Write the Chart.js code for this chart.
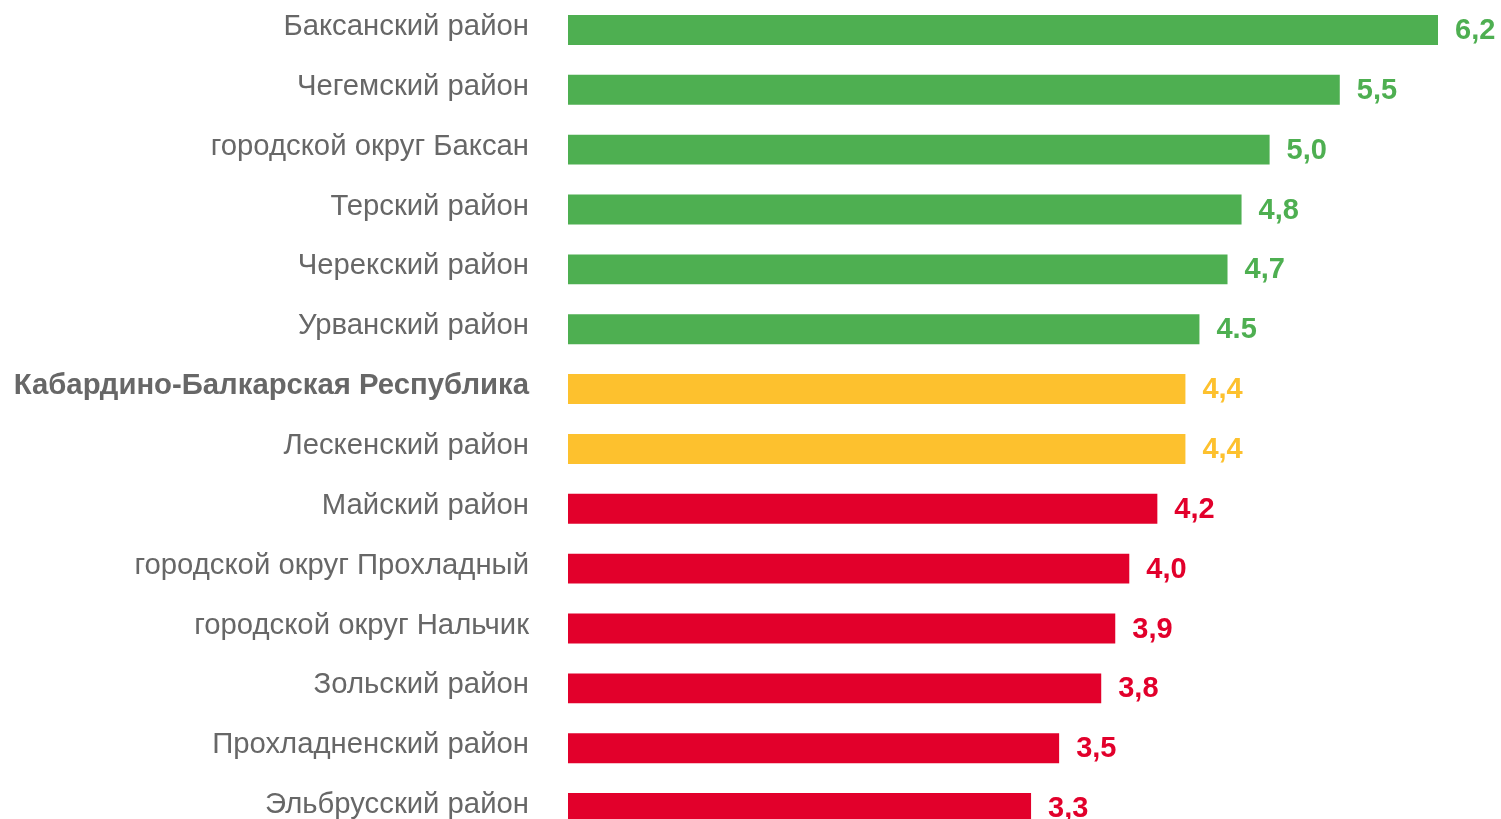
<!DOCTYPE html>
<html>
<head>
<meta charset="utf-8">
<script src="https://cdn.jsdelivr.net/npm/chart.js@4"></script>
<style>
  html, body { margin: 0; padding: 0; background: #fff; overflow: hidden; }
  #wrap { position: relative; width: 1501px; height: 838px; }
</style>
</head>
<body>
<div id="wrap"><canvas id="chart"></canvas></div>
<script>
const regions = [
  "Баксанский район",
  "Чегемский район",
  "городской округ Баксан",
  "Терский район",
  "Черекский район",
  "Урванский район",
  "Кабардино-Балкарская Республика",
  "Лескенский район",
  "Майский район",
  "городской округ Прохладный",
  "городской округ Нальчик",
  "Зольский район",
  "Прохладненский район",
  "Эльбрусский район"
];
const values = [6.2, 5.5, 5.0, 4.8, 4.7, 4.5, 4.4, 4.4, 4.2, 4.0, 3.9, 3.8, 3.5, 3.3];
const valueLabels = ["6,2", "5,5", "5,0", "4,8", "4,7", "4.5", "4,4", "4,4", "4,2", "4,0", "3,9", "3,8", "3,5", "3,3"];
const groups = ["g", "g", "g", "g", "g", "g", "y", "y", "r", "r", "r", "r", "r", "r"];
const boldIndex = 6; // the republic row

const groupColor = { g: "#4EAF51", y: "#FDC12E", r: "#E2002B" };
const barColors = groups.map(g => groupColor[g]);
const FONT = "'Liberation Sans', Arial, sans-serif";

// category names on the left, values on the right of each bar
const labelPlugin = {
  id: "barLabels",
  afterDatasetsDraw(chart) {
    const ctx = chart.ctx;
    const meta = chart.getDatasetMeta(0);
    const left = chart.chartArea.left;
    ctx.save();
    ctx.textBaseline = "middle";
    meta.data.forEach((bar, i) => {
      ctx.textAlign = "right";
      ctx.fillStyle = "#676767";
      ctx.font = (i === boldIndex ? "bold " : "") + "29.3px " + FONT;
      ctx.fillText(regions[i], left - 39, bar.y - 3);

      ctx.textAlign = "left";
      ctx.fillStyle = barColors[i];
      ctx.font = "bold 29px " + FONT;
      ctx.fillText(valueLabels[i], bar.x + 17, bar.y + 1);
    });
    ctx.restore();
  }
};

new Chart(document.getElementById("chart"), {
  type: "bar",
  data: {
    labels: regions,
    datasets: [{
      data: values,
      backgroundColor: barColors,
      borderWidth: 0,
      categoryPercentage: 1,
      barPercentage: 0.5
    }]
  },
  options: {
    indexAxis: "y",
    responsive: true,
    maintainAspectRatio: false,
    animation: false,
    layout: { padding: { left: 0, right: 63, top: 0, bottom: 0 } },
    plugins: { legend: { display: false }, tooltip: { enabled: false } },
    scales: {
      x: { display: false, min: 0, max: 6.2 },
      y: {
        grid: { display: false, drawTicks: false },
        border: { display: false },
        ticks: { display: false },
        afterFit(scale) { scale.width = 568; }
      }
    }
  },
  plugins: [labelPlugin]
});
</script>
</body>
</html>
